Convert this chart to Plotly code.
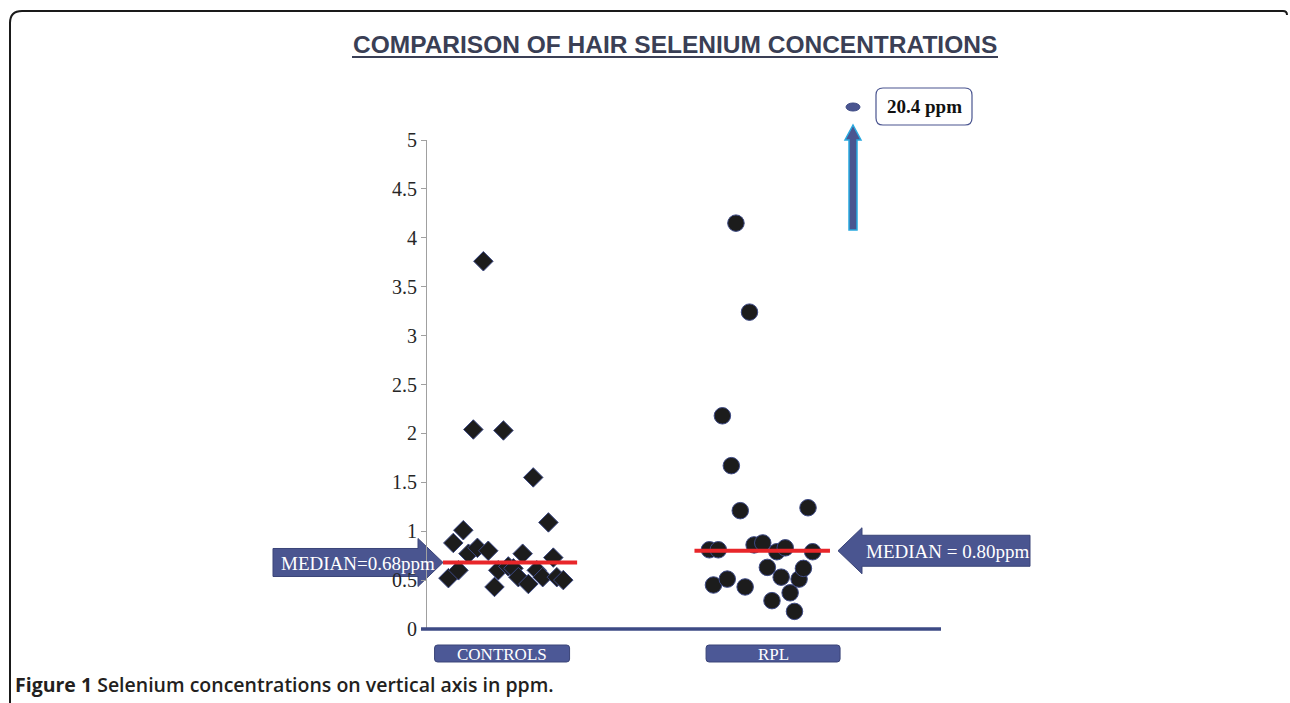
import plotly.graph_objects as go

# ---------------- data ----------------
categories = ["CONTROLS", "RPL"]
controls_jitter = [-0.198, -0.180, -0.161, -0.143, -0.124, -0.106, -0.091, -0.069,
                   -0.051, -0.028, -0.014, 0.005, 0.023, 0.042, 0.060, 0.076,
                   0.097, 0.115, 0.128, 0.150, 0.171, 0.189, 0.202, 0.226]
controls_ppm = [0.52, 0.88, 0.60, 1.01, 0.77, 2.04, 0.83, 3.76,
                0.80, 0.43, 0.60, 2.03, 0.64, 0.62, 0.53, 0.77,
                0.46, 1.55, 0.60, 0.53, 1.09, 0.73, 0.53, 0.50]
rpl_jitter = [-0.235, -0.220, -0.202, -0.187, -0.169, -0.154, -0.137, -0.121,
              -0.103, -0.087, -0.070, -0.038, -0.021, -0.004, 0.014, 0.030,
              0.045, 0.063, 0.079, 0.096, 0.112, 0.129, 0.146]
rpl_ppm = [0.81, 0.45, 0.81, 2.18, 0.51, 1.67, 4.15, 1.21,
           0.43, 3.24, 0.86, 0.88, 0.63, 0.29, 0.79, 0.53,
           0.83, 0.37, 0.18, 0.51, 0.62, 1.24, 0.79]
medians = [0.68, 0.80]
median_labels = ["MEDIAN=0.68ppm", "MEDIAN = 0.80ppm"]
outlier_label = "20.4 ppm"
y_ticks = [0, 0.5, 1, 1.5, 2, 2.5, 3, 3.5, 4, 4.5, 5]

# ---------------- geometry helpers (page pixels -> paper) ----------------
WID, HEI = 1290, 703
L, R, T, B = 427, 940, 140, 629
PW, PH = R - L, B - T
YMAX = 5.0
XMIN, XMAX = 0.723, 2.616


def X(px):
    return (px - L) / PW


def Y(py):
    return (B - py) / PH


def ypix(v):
    return B - v / YMAX * PH


def path(points, close=True):
    s = "M " + " L ".join(f"{X(a):.5f},{Y(b):.5f}" for a, b in points)
    return s + (" Z" if close else "")


def rrect(x0, y0, x1, y1, r):
    pts = [
        ("M", x0 + r, y0), ("L", x1 - r, y0), ("Q", x1, y0, x1, y0 + r),
        ("L", x1, y1 - r), ("Q", x1, y1, x1 - r, y1), ("L", x0 + r, y1),
        ("Q", x0, y1, x0, y1 - r), ("L", x0, y0 + r), ("Q", x0, y0, x0 + r, y0),
    ]
    out = []
    for p in pts:
        if p[0] == "Q":
            out.append(f"Q {X(p[1]):.5f},{Y(p[2]):.5f} {X(p[3]):.5f},{Y(p[4]):.5f}")
        else:
            out.append(f"{p[0]} {X(p[1]):.5f},{Y(p[2]):.5f}")
    return " ".join(out) + " Z"


BLUE = "#4a5590"
BLUE_DARK = "#3a4478"
SERIF = "Liberation Serif, Times New Roman, serif"

fig = go.Figure()

fig.add_trace(go.Scatter(
    x=[1 + j for j in controls_jitter], y=controls_ppm, mode="markers",
    marker=dict(symbol="diamond", size=15, color="#1c1c1c",
                line=dict(color="#3d4a85", width=1)),
    cliponaxis=False, hoverinfo="y"))
fig.add_trace(go.Scatter(
    x=[2 + j for j in rpl_jitter], y=rpl_ppm, mode="markers",
    marker=dict(symbol="circle", size=16.5, color="#1c1c1c",
                line=dict(color="#3d4a85", width=1)),
    cliponaxis=False, hoverinfo="y"))

# median lines
half_left = [0.218, 0.29]
half_right = [0.277, 0.21]
for i, m in enumerate(medians):
    fig.add_trace(go.Scatter(
        x=[i + 1 - half_left[i], i + 1 + half_right[i]], y=[m, m], mode="lines",
        line=dict(color="#e8262a", width=4), hoverinfo="skip"))

shapes = []
annotations = []

# frame
shapes.append(dict(type="path", xref="paper", yref="paper",
                   path=f"M {X(10)},{Y(706)} L {X(10)},{Y(23)} Q {X(10)},{Y(11)} {X(22)},{Y(11)} "
                        f"L {X(1283)},{Y(11)} Q {X(1287)},{Y(11)} {X(1287)},{Y(15)}",
                   line=dict(color="#1a1a1a", width=2)))

# title
annotations.append(dict(xref="paper", yref="paper", x=X(675), y=Y(44),
                        text="<b>COMPARISON OF HAIR SELENIUM CONCENTRATIONS</b>",
                        showarrow=False, xanchor="center", yanchor="middle",
                        font=dict(family="Liberation Sans, Arial, sans-serif", size=24.5, color="#3a3f55")))
shapes.append(dict(type="line", xref="paper", yref="paper", x0=X(352), x1=X(998),
                   y0=Y(57), y1=Y(57), line=dict(color="#3a3f55", width=2)))

# x axis line
shapes.append(dict(type="line", xref="paper", yref="paper", x0=X(421), x1=X(941),
                   y0=0, y1=0, line=dict(color="#3d4a85", width=3.5), layer="above"))

# median arrows
c0 = ypix(medians[0])
shapes.append(dict(type="path", xref="paper", yref="paper",
                   path=path([(273, c0 - 14), (418, c0 - 14), (418, c0 - 24), (443, c0),
                              (418, c0 + 24), (418, c0 + 14), (273, c0 + 14)]),
                   fillcolor=BLUE, line=dict(color=BLUE_DARK, width=1), layer="below"))
annotations.append(dict(xref="paper", yref="paper", x=X(358), y=Y(c0 + 1),
                        text=median_labels[0], showarrow=False, xanchor="center", yanchor="middle",
                        font=dict(family=SERIF, size=19, color="white")))
c1 = ypix(medians[1])
shapes.append(dict(type="path", xref="paper", yref="paper",
                   path=path([(838, c1), (862, c1 - 23), (862, c1 - 15.5), (1030, c1 - 15.5),
                              (1030, c1 + 15.5), (862, c1 + 15.5), (862, c1 + 23)]),
                   fillcolor=BLUE, line=dict(color=BLUE_DARK, width=1)))
annotations.append(dict(xref="paper", yref="paper", x=X(947), y=Y(c1 + 1),
                        text=median_labels[1], showarrow=False, xanchor="center", yanchor="middle",
                        font=dict(family=SERIF, size=19, color="white")))

# off-scale outlier marker + arrow + label box
shapes.append(dict(type="path", xref="paper", yref="paper",
                   path=path([(849, 230), (849, 140), (845, 140), (853, 125), (861, 140),
                              (857, 140), (857, 230)]),
                   fillcolor=BLUE, line=dict(color="#29a9e0", width=1.5)))
shapes.append(dict(type="circle", xref="paper", yref="paper", x0=X(846), x1=X(860),
                   y0=Y(111), y1=Y(103), fillcolor=BLUE, line=dict(color="#3d4a85", width=1)))
shapes.append(dict(type="path", xref="paper", yref="paper", path=rrect(876, 88, 972, 125, 7),
                   fillcolor="white", line=dict(color=BLUE, width=1.2)))
annotations.append(dict(xref="paper", yref="paper", x=X(924), y=Y(106),
                        text=f"<b>{outlier_label}</b>", showarrow=False, xanchor="center",
                        yanchor="middle", font=dict(family=SERIF, size=19, color="#111111")))

# category label boxes
box_half = [67.5, 67]
for i, cat in enumerate(categories):
    cx = L + (i + 1 - XMIN) / (XMAX - XMIN) * PW
    shapes.append(dict(type="path", xref="paper", yref="paper",
                       path=rrect(cx - box_half[i], 645, cx + box_half[i], 662, 3),
                       fillcolor="#4c5896", line=dict(color=BLUE_DARK, width=1)))
    annotations.append(dict(xref="x", yref="paper", x=i + 1, y=Y(654), text=cat,
                            showarrow=False, xanchor="center", yanchor="middle",
                            font=dict(family=SERIF, size=17, color="white")))

# caption
annotations.append(dict(xref="paper", yref="paper", x=X(13), y=Y(684),
                        text="<b>Figure 1</b> <span style='font-weight:600'>Selenium concentrations on vertical axis in ppm.</span>",
                        showarrow=False, xanchor="left", yanchor="middle",
                        font=dict(family="Open Sans, Noto Sans, sans-serif", size=19.5, color="#231f20")))

fig.update_layout(
    width=WID, height=HEI,
    margin=dict(l=L, r=WID - R, t=T, b=HEI - B),
    paper_bgcolor="white", plot_bgcolor="white",
    showlegend=False,
    shapes=shapes, annotations=annotations,
    xaxis=dict(range=[XMIN, XMAX], showgrid=False, zeroline=False,
               showticklabels=False, showline=False, ticks=""),
    yaxis=dict(range=[0, YMAX], tickvals=y_ticks, ticktext=[f"{v:g}" for v in y_ticks],
               showgrid=False, zeroline=False, showline=True, linecolor="#a0a0a0",
               linewidth=1, ticks="outside", ticklen=5, tickcolor="#a0a0a0",
               tickfont=dict(family=SERIF, size=20, color="#262626")),
)

fig.write_html("out.html", config={"displayModeBar": False},
               post_script="document.body.style.margin='0px';document.body.style.overflow='hidden';")
